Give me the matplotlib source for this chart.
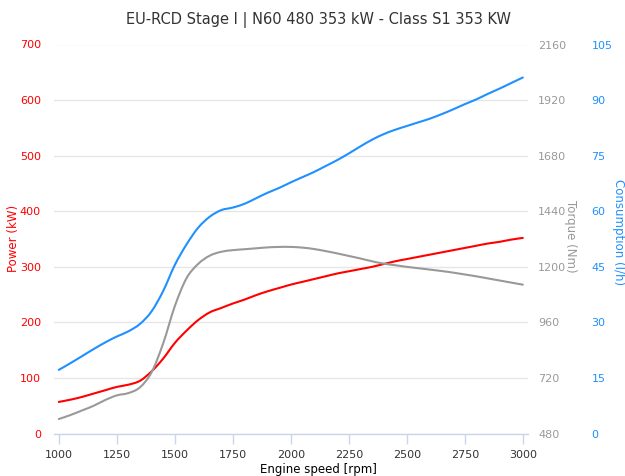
import matplotlib
matplotlib.use("Agg")
import matplotlib.pyplot as plt
from matplotlib.path import Path
from matplotlib.patches import PathPatch

plt.rcParams['font.family'] = ['DejaVu Sans']

rpm = list(range(1000, 3001, 50))

power_kw = [57, 61, 66, 72, 78, 84, 88, 95, 112, 135,
            163, 185, 204, 218, 226, 234, 241, 249, 256, 262,
            268, 273, 278, 283, 288, 292, 296, 300, 305, 310,
            314, 318, 322, 326, 330, 334, 338, 342, 345, 349, 352]

torque_nm = [543, 560, 580, 600, 625, 645, 655, 680, 745, 870,
             1030, 1150, 1212, 1248, 1265, 1272, 1276, 1280, 1284, 1286,
             1286, 1283, 1277, 1268, 1258, 1247, 1236, 1224, 1214, 1207,
             1200, 1194, 1188, 1182, 1175, 1167, 1159, 1150, 1141, 1132, 1123]

consumption_lh = [17.2, 19.0, 20.9, 22.8, 24.6, 26.2, 27.6, 29.6, 33.0, 38.5,
                  45.5, 51.0, 55.5, 58.5, 60.3, 61.0, 62.0, 63.5, 65.0, 66.3,
                  67.8, 69.2, 70.6, 72.2, 73.8, 75.6, 77.5, 79.3, 80.8, 82.0,
                  83.0, 84.0, 85.0, 86.2, 87.5, 88.9, 90.2, 91.7, 93.1, 94.6, 96.1]

x_ticks = [1000, 1250, 1500, 1750, 2000, 2250, 2500, 2750, 3000]
power_ticks = [0, 100, 200, 300, 400, 500, 600, 700]
torque_ticks = [480, 720, 960, 1200, 1440, 1680, 1920, 2160]
cons_ticks = [0, 15, 30, 45, 60, 75, 90, 105]

title = "EU-RCD Stage I | N60 480 353 kW - Class S1 353 KW"

RED = "#ff0000"
GREY = "#999999"
BLUE = "#1e90ff"


def spline(ax, xs, ys, color, z):
    """Smooth curve through the data points (Catmull-Rom as cubic Bezier)."""
    verts = [(xs[0], ys[0])]
    codes = [Path.MOVETO]
    n = len(xs)
    for i in range(n - 1):
        x0, y0 = (xs[i - 1], ys[i - 1]) if i > 0 else (xs[i], ys[i])
        x1, y1 = xs[i], ys[i]
        x2, y2 = xs[i + 1], ys[i + 1]
        x3, y3 = (xs[i + 2], ys[i + 2]) if i + 2 < n else (xs[i + 1], ys[i + 1])
        c1 = (x1 + (x2 - x0) / 6.0, y1 + (y2 - y0) / 6.0)
        c2 = (x2 - (x3 - x1) / 6.0, y2 - (y3 - y1) / 6.0)
        verts += [c1, c2, (x2, y2)]
        codes += [Path.CURVE4] * 3
    patch = PathPatch(Path(verts, codes), facecolor='none', edgecolor=color,
                      linewidth=1.5, zorder=z, capstyle='round', joinstyle='round')
    ax.add_patch(patch)


W, H = 625, 476
fig = plt.figure(figsize=(W / 100, H / 100), dpi=100)
left, right = 54, 528
bottom, top = 433.6, 44.5
ax = fig.add_axes([left / W, 1 - bottom / H, (right - left) / W, (bottom - top) / H])
ax2 = ax.twinx()
ax3 = ax.twinx()

ax.set_xlim(979.3, 3022.4)
ax.set_ylim(0, 700)
ax2.set_ylim(480, 2160)
ax3.set_ylim(0, 105)

for a in (ax, ax2, ax3):
    for s in a.spines.values():
        s.set_visible(False)
    a.patch.set_visible(False)

ax.spines['bottom'].set_visible(True)
ax.spines['bottom'].set_color('#ccd6eb')
ax.spines['bottom'].set_linewidth(1)

ax.set_yticks(power_ticks)
ax.grid(axis='y', color='#e6e6e6', linewidth=1)
ax.set_axisbelow(True)
ax.tick_params(axis='y', length=0, pad=9.4, labelcolor=RED, labelsize=8)
ax.set_xticks(x_ticks)
ax.tick_params(axis='x', length=7, color='#ccd6eb', width=1, pad=5, labelsize=8, labelcolor='#333333')

ax2.set_yticks(torque_ticks)
ax2.tick_params(axis='y', length=0, pad=7.2, labelcolor=GREY, labelsize=8)
ax3.set_yticks(cons_ticks)
ax3.tick_params(axis='y', length=0, pad=45.7, labelcolor=BLUE, labelsize=8)

spline(ax, rpm, power_kw, RED, 3)
spline(ax2, rpm, torque_nm, GREY, 2)
spline(ax3, rpm, consumption_lh, BLUE, 1)

fig.text(318 / W, 1 - 20 / H, title, ha='center', va='center', fontsize=10.5, color='#333333')
fig.text(318 / W, 1 - 469 / H, "Engine speed [rpm]", ha='center', va='center', fontsize=8.5, color='#000000')
fig.text(13 / W, 1 - 238 / H, "Power (kW)", rotation=90, ha='center', va='center', fontsize=8.5, color=RED)
fig.text(570 / W, 1 - 236 / H, "Torque (Nm)", rotation=270, ha='center', va='center', fontsize=8.5, color=GREY)
fig.text(618 / W, 1 - 232 / H, "Consumption (l/h)", rotation=270, ha='center', va='center', fontsize=8.5, color=BLUE)

fig.savefig("out.png", dpi=100)
